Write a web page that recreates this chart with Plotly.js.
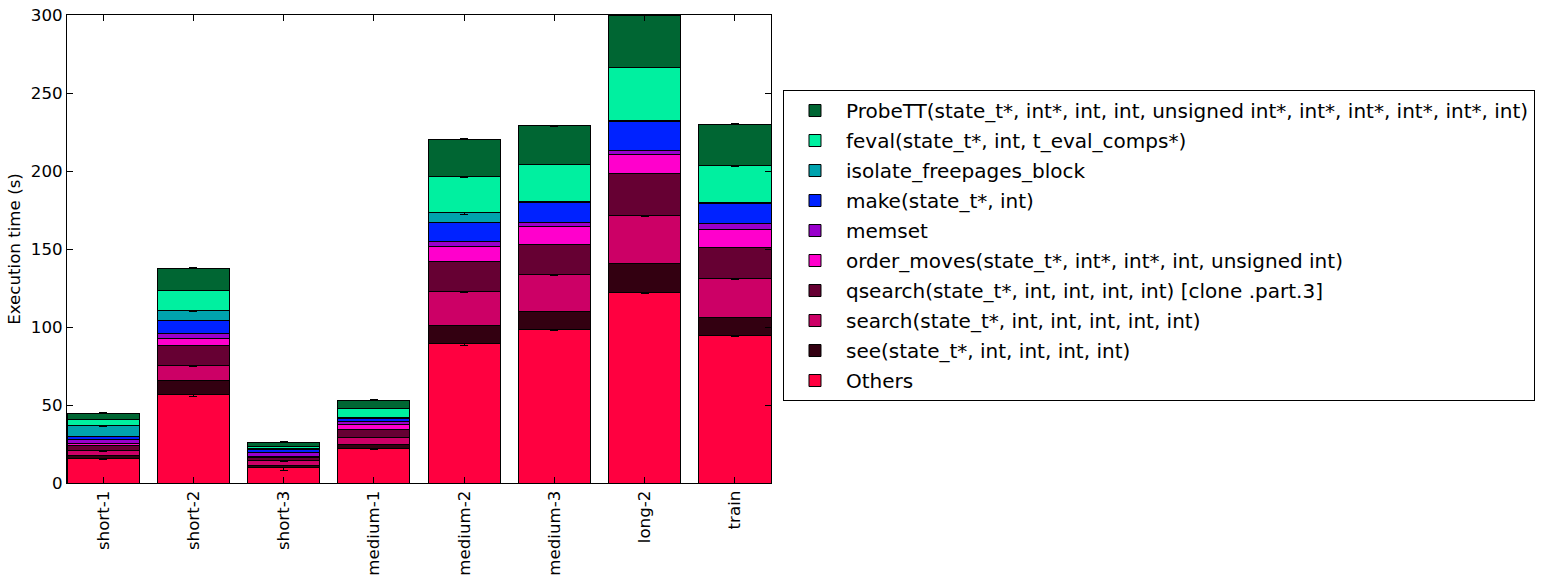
<!DOCTYPE html>
<html>
<head>
<meta charset="utf-8">
<script src="https://cdn.plot.ly/plotly-3.0.1.min.js"></script>
<style>html,body{margin:0;padding:0;background:#fff;}#chart{width:1546px;height:582px;}</style>
</head>
<body>
<div id="chart"></div>
<script>
const categories = ['short-1','short-2','short-3','medium-1','medium-2','medium-3','long-2','train'];

const others  = [15.8, 56.6,  9.8, 22.0, 89.3, 98.7, 122.0, 94.4];
const see     = [ 2.1,  8.8,  1.5,  2.4, 11.8, 11.0,  18.8, 11.4];
const search  = [ 3.1,  9.8,  3.0,  4.9, 21.5, 23.7,  30.6, 25.2];
const qsearch = [ 3.2, 13.1,  1.9,  5.3, 19.1, 19.5,  27.1, 20.1];
const orderMoves = [1.4, 4.5, 1.1,  3.0,  9.6, 11.3,  12.4, 11.7];
const memset  = [ 2.6,  2.9,  2.4,  2.1,  3.2,  2.8,   2.4,  3.4];
const make    = [ 1.9,  8.6,  1.5,  1.8, 12.2, 13.0,  18.6, 13.1];
const isolate = [ 6.6,  6.4,  1.0,  0.8,  6.4,  0.5,   0.3,  0.3];
const feval   = [ 4.1, 12.8,  1.5,  5.6, 23.1, 23.6,  34.3, 23.8];
const probeTT = [ 3.9, 14.3,  2.4,  5.1, 24.3, 24.8,  33.3, 26.6];

const errOthers  = [1.0, 1.0, 2.0, 0.6, 1.0, 1.0, 0.6, 0.5];
const errSearch  = [0.5, 0.3, 0.8, 0.3, 0.3, 0.3, 0.3, 0.3];
const errIsolate = [0.7, 0.8, 0.5, 0.3, 0.8, 0.7, 0.3, 0.3];
const errFeval   = [0.2, 0.2, 0.3, 0.2, 0.3, 0.2, 0.3, 0.2];
const errProbe   = [0.3, 0.3, 0.3, 0.3, 0.3, 0.3, 0.3, 0.3];

const seriesNames = [
  'Others',
  'see(state_t*, int, int, int, int)',
  'search(state_t*, int, int, int, int, int)',
  'qsearch(state_t*, int, int, int, int) [clone .part.3]',
  'order_moves(state_t*, int*, int*, int, unsigned int)',
  'memset',
  'make(state_t*, int)',
  'isolate_freepages_block',
  'feval(state_t*, int, t_eval_comps*)',
  'ProbeTT(state_t*, int*, int, int, unsigned int*, int*, int*, int*, int*, int)'
];
const seriesValues = [others, see, search, qsearch, orderMoves, memset, make, isolate, feval, probeTT];
const seriesColors = ['#FF0040','#330011','#CC0066','#660033','#FF00CC','#9900CC','#0022FF','#00A3AE','#00F0A0','#006633'];
const seriesErrors = [errOthers, null, errSearch, null, null, null, null, errIsolate, errFeval, errProbe];

const nSeries = seriesNames.length;
const traces = seriesNames.map((name, i) => {
  const t = {
    type: 'bar',
    name: name,
    legendgroup: 'g' + String(nSeries - i).padStart(2, '0'),
    legendrank: (nSeries - i) * 10,
    x: categories,
    y: seriesValues[i],
    marker: {color: seriesColors[i], line: {color: '#000000', width: 1}}
  };
  if (seriesErrors[i]) {
    t.error_y = {type: 'data', array: seriesErrors[i], visible: true, color: '#000000', thickness: 1, width: 4};
  }
  return t;
});

const font = 'DejaVu Sans, sans-serif';
const layout = {
  width: 1546, height: 582,
  margin: {l: 67, r: 774, t: 15, b: 99},
  barmode: 'stack',
  bargap: 0.2,
  paper_bgcolor: '#ffffff',
  plot_bgcolor: '#ffffff',
  font: {family: font, size: 16.67, color: '#000000'},
  showlegend: true,
  legend: {
    x: 1.0156, y: 0.8397, xanchor: 'left', yanchor: 'top',
    traceorder: 'grouped',
    bordercolor: '#000000', borderwidth: 1, bgcolor: '#ffffff',
    font: {family: font, size: 20, color: '#000000'},
    itemwidth: 52,
    tracegroupgap: 1
  },
  xaxis: {
    type: 'category',
    range: [-0.4, 7.4],
    tickangle: -90,
    ticks: 'inside', ticklen: 6, tickcolor: '#000000',
    showline: true, linecolor: '#000000', linewidth: 1, mirror: 'ticks',
    showgrid: false, zeroline: false,
    tickfont: {family: font, size: 16.67, color: '#000000'}
  },
  yaxis: {
    range: [0, 300],
    tickvals: [0, 50, 100, 150, 200, 250, 300],
    ticks: 'inside', ticklen: 6, tickcolor: '#000000',
    showline: true, linecolor: '#000000', linewidth: 1, mirror: 'ticks',
    showgrid: false, zeroline: false,
    tickfont: {family: font, size: 16.67, color: '#000000'},
    title: {text: 'Execution time (s)', font: {family: font, size: 16.67, color: '#000000'}, standoff: 6}
  }
};

Plotly.newPlot('chart', traces, layout, {displayModeBar: false, staticPlot: true});
</script>
</body>
</html>
